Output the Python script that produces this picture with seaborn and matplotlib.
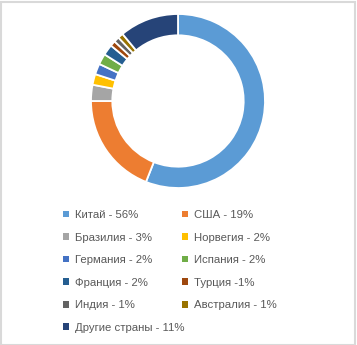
import matplotlib
matplotlib.use("Agg")
import matplotlib.pyplot as plt
import seaborn as sns
from matplotlib.patches import Rectangle

sns.set_theme(style="white")
plt.rcParams['font.family'] = ['Liberation Sans', 'DejaVu Sans']

# data
countries = ["Китай", "США", "Бразилия", "Норвегия", "Германия", "Испания",
             "Франция", "Турция", "Индия", "Австралия", "Другие страны"]
shares = [56, 19, 3, 2, 2, 2, 2, 1, 1, 1, 11]
labels = ["Китай - 56%", "США - 19%", "Бразилия - 3%", "Норвегия - 2%",
          "Германия - 2%", "Испания - 2%", "Франция - 2%", "Турция -1%",
          "Индия - 1%", "Австралия - 1%", "Другие страны - 11%"]
colors = ["#5B9BD5", "#ED7D31", "#A5A5A5", "#FFC000", "#4472C4", "#70AD47",
          "#255E91", "#9E480E", "#636363", "#997300", "#264478"]

fig = plt.figure(figsize=(3.57, 3.45), dpi=100)
W, H = 357, 345

# donut
cx, cy, r = 178, 101, 87
ax = fig.add_axes([(cx - r) / W, 1 - (cy + r) / H, 2 * r / W, 2 * r / H])
wedges, _ = ax.pie(shares, colors=colors, startangle=90, counterclock=False,
                   radius=1.0, wedgeprops=dict(width=0.245, edgecolor="white", linewidth=1.3))
ax.set_aspect("equal")
ax.set_xlim(-1, 1)
ax.set_ylim(-1, 1)
ax.axis("off")

# legend is filled row by row in the original
order = list(range(0, 11, 2)) + list(range(1, 11, 2))
leg = fig.legend([wedges[i] for i in order], [labels[i] for i in order],
                 ncol=2, loc="upper left", bbox_to_anchor=(63 / W, 1 - 210 / H),
                 frameon=False, fontsize=8.2, handlelength=0.55, handleheight=0.55,
                 handletextpad=0.5, columnspacing=-0.25, labelspacing=1.1,
                 borderpad=0, borderaxespad=0, labelcolor="#595959")
for h in leg.legend_handles:
    h.set_edgecolor("none")

# light grey frame around the picture
fig.patches.append(Rectangle((0.5 / W, 0.5 / H), 1 - 2.5 / W, 1 - 2.5 / H,
                             transform=fig.transFigure, fill=False,
                             edgecolor="#D9D9D9", linewidth=1.5))

fig.savefig("out.png", dpi=100)
